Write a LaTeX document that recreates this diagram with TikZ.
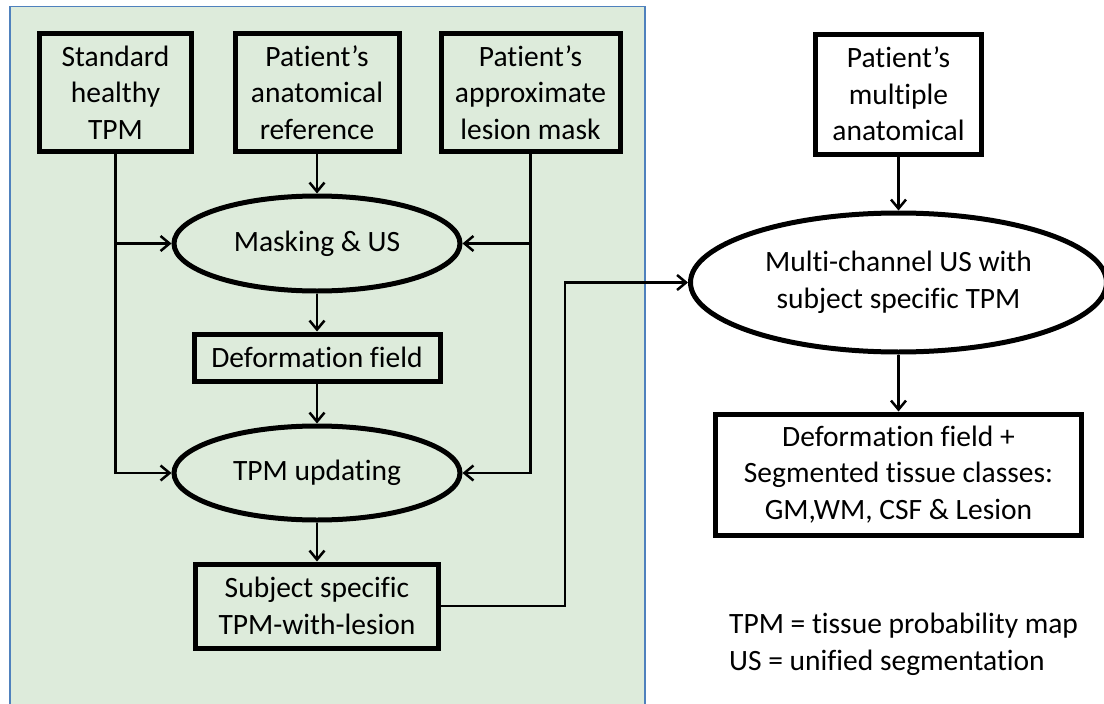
\documentclass[tikz,border=0pt]{standalone}
\usepackage{fontspec}
\setmainfont{Carlito}[Ligatures=NoCommon]
\usetikzlibrary{arrows.meta,shapes.geometric}
\definecolor{panelfill}{RGB}{221,235,219}
\definecolor{panelline}{RGB}{79,129,189}

\begin{document}
\begin{tikzpicture}[x=1pt,y=-1pt,
  every node/.style={font=\fontsize{29.5}{36.5}\selectfont, align=center, inner sep=0pt},
  stagebox/.style={draw, line width=5pt, rectangle},
  stageoval/.style={draw, line width=5pt, ellipse},
  flow/.style={line width=2.5pt, -{Straight Barb[length=9pt,width=15pt]}}]
\useasboundingbox (0,0) rectangle (1104,704);
\clip (0,0) rectangle (1104,704);

% shaded panel holding the TPM preparation stage
\fill[panelfill] (10,6.5) rectangle (645,720);
\draw[panelline, line width=1.5pt] (10,720) -- (10,6.5) -- (645,6.5) -- (645,720);

% inputs
\node[stagebox, minimum width=152pt, minimum height=118pt] (healthy) at (115.5,92.5) {Standard\\healthy\\TPM};
\node[stagebox, minimum width=164pt, minimum height=118pt] (anat) at (317,92.5) {Patient’s\\anatomical\\reference};
\node[stagebox, minimum width=179pt, minimum height=118pt] (lesion) at (530.5,92.5) {Patient’s\\approximate\\lesion mask};

% processing chain
\node[stageoval, minimum width=286pt, minimum height=95pt] (mask) at (317,243.5) {Masking \& US};
\node[stagebox, minimum width=246pt, minimum height=47pt] (deform) at (317,357.5) {Deformation field};
\node[stageoval, minimum width=286pt, minimum height=94pt] (update) at (317,473) {TPM updating};
\node[stagebox, minimum width=243pt, minimum height=84pt] (subject) at (317,606) {Subject specific\\TPM-with-lesion};

% multi-channel segmentation
\node[stagebox, minimum width=166pt, minimum height=120pt] (multi) at (898.5,94) {Patient’s\\multiple\\anatomical};
\node[stageoval, minimum width=416pt, minimum height=139pt] (mcus) at (898.5,282.5) {Multi-channel US with\\subject specific TPM};
\node[stagebox, minimum width=366pt, minimum height=121pt] (result) at (898.5,474.5) {Deformation field +\\Segmented tissue classes:\\GM,WM, CSF \& Lesion};

% legend
\node[anchor=north west, align=left] (legend) at (729,613) {TPM = tissue probability map\\US = unified segmentation};

% connectors inside the panel
\draw[flow] (healthy.south) |- (update.west);
\draw[flow] (healthy.south |- mask.west) -- (mask.west);
\draw[flow] (anat.south) -- (mask.north);
\draw[flow] (lesion.south) |- (update.east);
\draw[flow] (lesion.south |- mask.east) -- (mask.east);
\draw[flow] (mask.south) -- (deform.north);
\draw[flow] (deform.south) -- (update.north);
\draw[flow] (update.south) -- (subject.north);

% connectors to the right-hand stage
\draw[flow] (subject.east) -- ++(124,0) |- (mcus.west);
\draw[flow] (multi.south) -- (mcus.north);
\draw[flow] (mcus.south) -- (result.north);
\end{tikzpicture}
\end{document}
